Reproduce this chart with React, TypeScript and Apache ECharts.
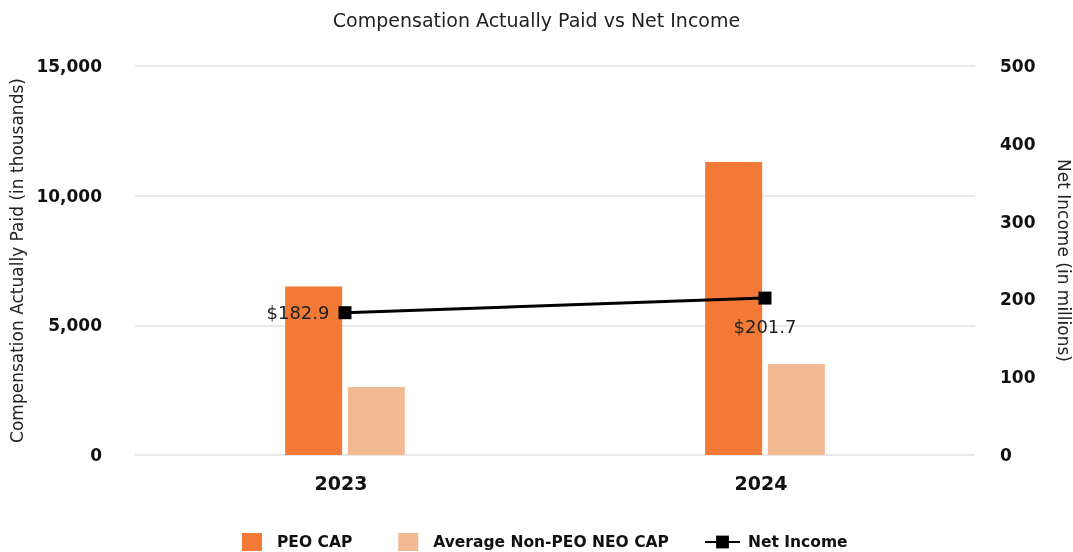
import React, { useEffect, useRef } from "react";
import * as echarts from "echarts";

const categories = ["2023", "2024"];
const peoCap = [6500, 11300];
const avgNonPeoCap = [2620, 3510];
const netIncome = [182.9, 201.7];
const leftTicks = { min: 0, max: 15000, interval: 5000 };
const rightTicks = { min: 0, max: 500, interval: 100 };

const FONT = "DejaVu Sans";

export default function App() {
  const ref = useRef<HTMLDivElement>(null);
  useEffect(() => {
    const chart = echarts.init(ref.current!, undefined, { renderer: "svg" });
    chart.setOption({
      animation: false,
      textStyle: { fontFamily: FONT },
      title: {
        text: "Compensation Actually Paid vs Net Income",
        left: "center",
        top: 5,
        textStyle: { fontFamily: FONT, fontSize: 19, fontWeight: "normal", color: "#222" },
      },
      grid: { left: 135, right: 98, top: 66, bottom: 97, outerBoundsMode: "none", containLabel: false },
      legend: [
        {
          data: ["PEO CAP", "Average Non-PEO NEO CAP"],
          left: 237,
          top: 528,
          itemWidth: 20,
          itemHeight: 18,
          itemGap: 46,
          icon: "rect",
          textStyle: { fontFamily: FONT, fontSize: 15.5, fontWeight: "bold", color: "#111", padding: [0, 0, 0, 10] },
        },
        {
          data: ["Net Income"],
          left: 699,
          top: 529,
          itemWidth: 35,
          itemHeight: 16,
          textStyle: { fontFamily: FONT, fontSize: 15.5, fontWeight: "bold", color: "#111", padding: [0, 0, 0, 3] },
        },
      ],
      xAxis: {
        type: "category",
        data: categories,
        axisLine: { show: false },
        axisTick: { show: false },
        axisLabel: {
          fontFamily: FONT,
          fontSize: 19,
          fontWeight: "bold",
          color: "#111",
          margin: 18,
          padding: [0, 8, 0, 0],
        },
      },
      yAxis: [
        {
          type: "value",
          ...leftTicks,
          name: "Compensation Actually Paid (in thousands)",
          nameLocation: "middle",
          nameGap: 109,
          nameTextStyle: { fontFamily: FONT, fontSize: 17, color: "#222" },
          axisLine: { show: false },
          axisTick: { show: false },
          axisLabel: {
            fontFamily: FONT,
            fontSize: 17,
            fontWeight: "bold",
            color: "#111",
            margin: 33,
            formatter: (v: number) => v.toLocaleString("en-US"),
          },
          splitLine: { lineStyle: { color: "#e2e2e2", width: 1.5 } },
        },
        {
          type: "value",
          ...rightTicks,
          name: "Net Income (in millions)",
          nameLocation: "middle",
          nameRotate: -90,
          nameGap: 80,
          nameTextStyle: { fontFamily: FONT, fontSize: 17, color: "#222" },
          axisLine: { show: false },
          axisTick: { show: false },
          axisLabel: { fontFamily: FONT, fontSize: 17, fontWeight: "bold", color: "#111", margin: 25 },
          splitLine: { show: false },
        },
      ],
      series: [
        {
          name: "PEO CAP",
          type: "bar",
          data: peoCap,
          barWidth: 57,
          barGap: "10%",
          itemStyle: { color: "#F37A36" },
        },
        {
          name: "Average Non-PEO NEO CAP",
          type: "bar",
          data: avgNonPeoCap,
          barWidth: 57,
          barGap: "10%",
          itemStyle: { color: "#F2BA93" },
        },
        {
          name: "Net Income",
          type: "line",
          yAxisIndex: 1,
          data: netIncome.map((v, i) => ({
            value: v,
            label: i === 0 ? { position: "left", distance: 9 } : { position: "bottom", distance: 13 },
          })),
          symbol: "rect",
          symbolSize: 13,
          lineStyle: { color: "#000", width: 3 },
          itemStyle: { color: "#000" },
          label: {
            show: true,
            fontFamily: FONT,
            fontSize: 18,
            color: "#222",
            formatter: (p: any) => "$" + Number(p.value).toFixed(1),
          },
        },
      ],
    });
    return () => chart.dispose();
  }, []);
  return <div ref={ref} style={{ position: "fixed", left: 0, top: 0, width: 1073, height: 552 }} />;
}
